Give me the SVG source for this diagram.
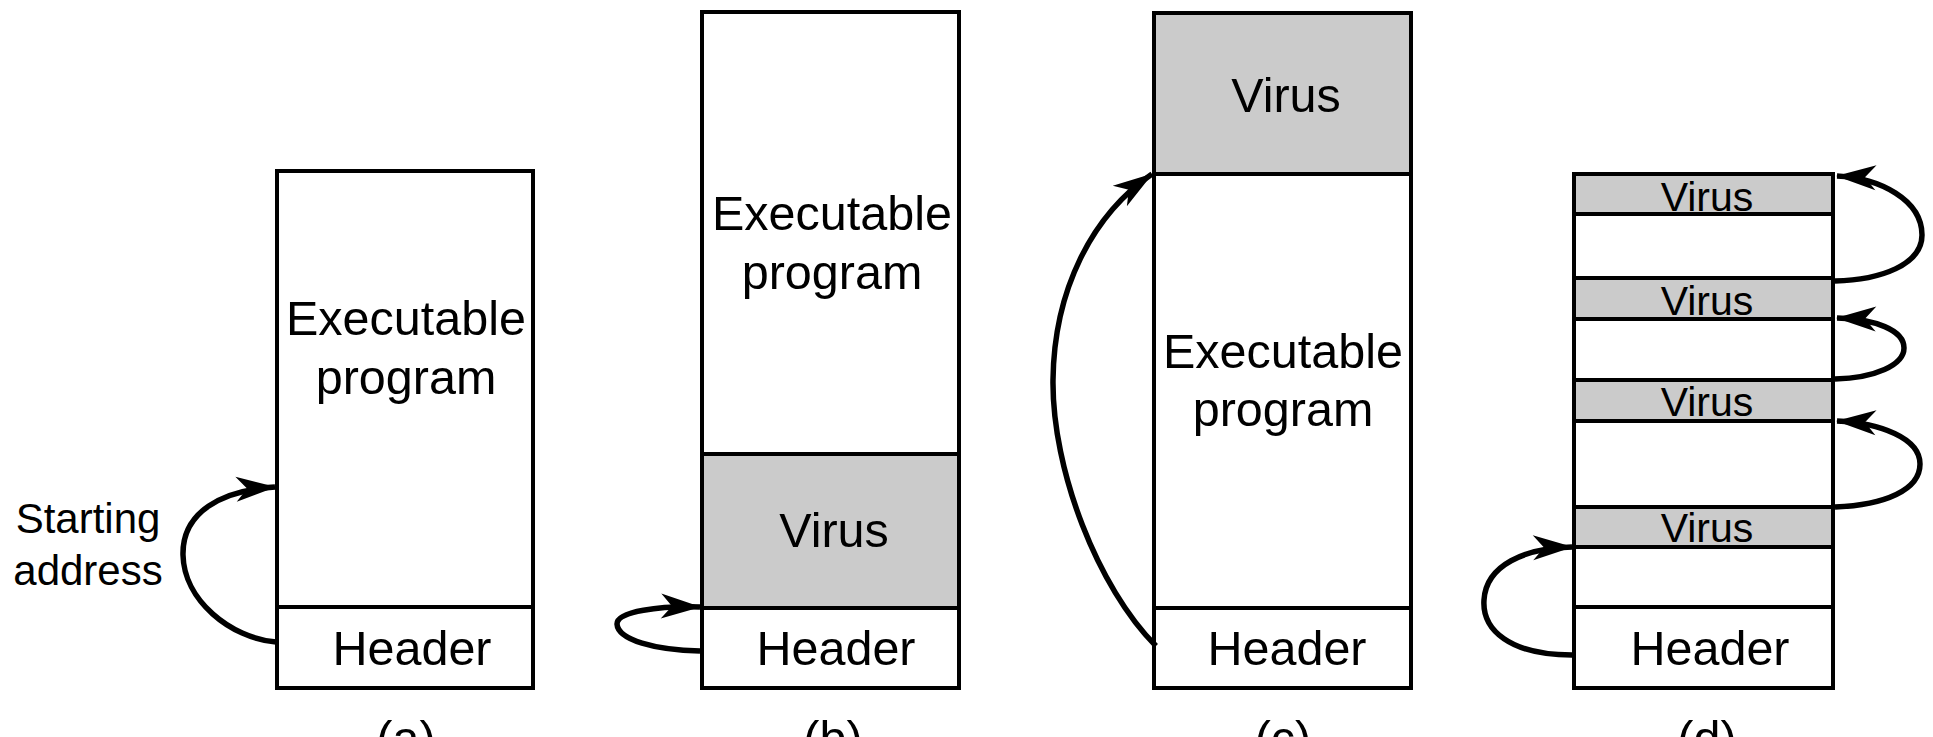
<svg xmlns="http://www.w3.org/2000/svg" width="1933" height="737" viewBox="0 0 1933 737">
<style>
.seg{fill:#fff;stroke:#000;stroke-width:4}
.vir{fill:#cbcbcb;stroke:#000;stroke-width:4}
.t{font-family:"Liberation Sans",Arial,sans-serif;font-size:48.5px;fill:#000;text-anchor:middle}
.ts{font-family:"Liberation Sans",Arial,sans-serif;font-size:41px;fill:#000;text-anchor:middle}
.tl{font-family:"Liberation Sans",Arial,sans-serif;font-size:42px;fill:#000;text-anchor:middle}
.arr{fill:none;stroke:#000;stroke-width:5.5;marker-end:url(#ah)}
</style>
<defs>
<marker id="ah" markerUnits="userSpaceOnUse" markerWidth="46" markerHeight="32" viewBox="-44 -16 46 32" refX="0" refY="0" orient="auto">
<path d="M1,0 L-39,-12.5 L-28,0 L-39,12.5 Z" fill="#000"/>
</marker>
</defs>
<rect width="1933" height="737" fill="#fff"/>

<!-- (a) -->
<g id="a-program"><rect class="seg" x="277" y="171" width="256" height="436"/><text class="t" x="406" y="335">Executable</text><text class="t" x="406" y="394">program</text></g>
<g id="a-header"><rect class="seg" x="277" y="607" width="256" height="81"/><text class="t" x="412" y="665">Header</text></g>
<g id="a-label"><text class="tl" x="88" y="533">Starting</text><text class="tl" x="88" y="585">address</text></g>
<g id="a-caption"><text class="t" x="406" y="755">(a)</text></g>

<!-- (b) -->
<g id="b-program"><rect class="seg" x="702" y="12" width="257" height="442"/><text class="t" x="832" y="230">Executable</text><text class="t" x="832" y="289">program</text></g>
<g id="b-virus"><rect class="vir" x="702" y="454" width="257" height="154"/><text class="t" x="834" y="547">Virus</text></g>
<g id="b-header"><rect class="seg" x="702" y="608" width="257" height="80"/><text class="t" x="836" y="665">Header</text></g>
<g id="b-caption"><text class="t" x="833" y="755">(b)</text></g>

<!-- (c) -->
<g id="c-virus"><rect class="vir" x="1154" y="13" width="257" height="161"/><text class="t" x="1286" y="112">Virus</text></g>
<g id="c-program"><rect class="seg" x="1154" y="174" width="257" height="434"/><text class="t" x="1283" y="368">Executable</text><text class="t" x="1283" y="426">program</text></g>
<g id="c-header"><rect class="seg" x="1154" y="608" width="257" height="80"/><text class="t" x="1287" y="665">Header</text></g>
<g id="c-caption"><text class="t" x="1283" y="755">(c)</text></g>

<!-- (d) -->
<g id="d-virus1"><rect class="vir" x="1574" y="174" width="259" height="40"/><text class="ts" x="1707" y="211">Virus</text></g>
<g id="d-prog1"><rect class="seg" x="1574" y="214" width="259" height="64"/></g>
<g id="d-virus2"><rect class="vir" x="1574" y="278" width="259" height="41"/><text class="ts" x="1707" y="315">Virus</text></g>
<g id="d-prog2"><rect class="seg" x="1574" y="319" width="259" height="61"/></g>
<g id="d-virus3"><rect class="vir" x="1574" y="380" width="259" height="41"/><text class="ts" x="1707" y="416">Virus</text></g>
<g id="d-prog3"><rect class="seg" x="1574" y="421" width="259" height="86"/></g>
<g id="d-virus4"><rect class="vir" x="1574" y="507" width="259" height="40"/><text class="ts" x="1707" y="542">Virus</text></g>
<g id="d-prog4"><rect class="seg" x="1574" y="547" width="259" height="60"/></g>
<g id="d-header"><rect class="seg" x="1574" y="607" width="259" height="81"/><text class="t" x="1710" y="665">Header</text></g>
<g id="d-caption"><text class="t" x="1707" y="755">(d)</text></g>

<g id="connectors">
<path class="arr" d="M 276 642 C 230 638, 184 600, 183 555 C 182 512, 222 490, 275 487"/>
<path class="arr" d="M 700 651 C 655 650, 618 640, 617 624 C 617 611, 660 606, 700 607"/>
<path class="arr" d="M 1156 646 C 1098 588, 1052 470, 1053 380 C 1054 290, 1092 215, 1152 174"/>
<path class="arr" d="M 1572 655 C 1510 655, 1482 630, 1484 600 C 1486 565, 1525 548, 1572 547"/>
<path class="arr" d="M 1835 281 C 1880 280, 1922 265, 1922 235 C 1922 200, 1880 178, 1837 176"/>
<path class="arr" d="M 1835 379 C 1875 378, 1904 365, 1904 348 C 1904 330, 1875 319, 1837 318"/>
<path class="arr" d="M 1835 507 C 1885 505, 1920 490, 1920 464 C 1920 438, 1880 423, 1837 421"/>
</g>
</svg>
